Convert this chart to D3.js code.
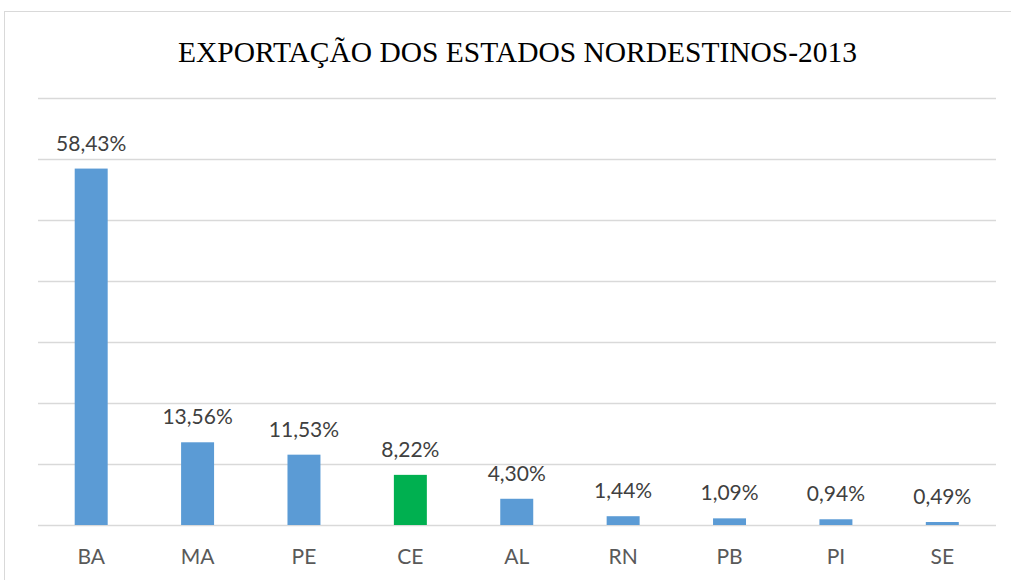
<!DOCTYPE html>
<html>
<head>
<meta charset="utf-8">
<script src="https://cdn.jsdelivr.net/npm/d3@7/dist/d3.min.js"></script>
<style>
  body { margin: 0; background: #fff; }
  svg { display: block; }
</style>
</head>
<body>
<svg id="chart"></svg>
<script>
var width = 1011,
    height = 580;

var states = ["BA", "MA", "PE", "CE", "AL", "RN", "PB", "PI", "SE"];
var shares = [58.43, 13.56, 11.53, 8.22, 4.30, 1.44, 1.09, 0.94, 0.49];
var shareLabels = ["58,43%", "13,56%", "11,53%", "8,22%", "4,30%", "1,44%", "1,09%", "0,94%", "0,49%"];
var gridTicks = [0, 10, 20, 30, 40, 50, 60, 70];
var highlight = "CE";

var margin = {top: 98, right: 15, bottom: 55, left: 38};

var svg = d3.select("#chart").attr("width", width).attr("height", height);

// outer chart frame
svg.append("rect")
  .attr("x", 4.5).attr("y", 11.5)
  .attr("width", width + 10).attr("height", height + 10)
  .attr("fill", "none")
  .attr("stroke", "#d9d9d9")
  .attr("stroke-width", 1);

svg.append("text")
  .attr("x", 517.5)
  .attr("y", 62)
  .attr("text-anchor", "middle")
  .attr("font-family", "'Liberation Serif', 'Times New Roman', serif")
  .attr("font-size", "29px")
  .attr("textLength", 679)
  .attr("lengthAdjust", "spacingAndGlyphs")
  .attr("fill", "#000")
  .text("EXPORTAÇÃO DOS ESTADOS NORDESTINOS-2013");

var x = d3.scaleBand()
  .domain(states)
  .range([margin.left, width - margin.right - 0.5])
  .paddingInner(0.69)
  .paddingOuter(0.345);

var y = d3.scaleLinear()
  .domain([0, 70])
  .range([height - margin.bottom, margin.top]);

var g = svg.append("g");

g.selectAll("line.grid")
  .data(gridTicks)
  .enter().append("line")
  .attr("class", "grid")
  .attr("x1", margin.left)
  .attr("x2", width - margin.right)
  .attr("y1", function(d) { return Math.round(y(d)) + 0.5; })
  .attr("y2", function(d) { return Math.round(y(d)) + 0.5; })
  .attr("stroke", "#d9d9d9")
  .attr("stroke-width", 1.5);

g.selectAll("rect.bar")
  .data(states)
  .enter().append("rect")
  .attr("class", "bar")
  .attr("x", function(d) { return x(d); })
  .attr("width", x.bandwidth())
  .attr("y", function(d, i) { return y(shares[i]); })
  .attr("height", function(d, i) { return y(0) - y(shares[i]); })
  .attr("fill", function(d) { return d === highlight ? "#00b050" : "#5b9bd5"; });

g.selectAll("text.val")
  .data(states)
  .enter().append("text")
  .attr("class", "val")
  .attr("x", function(d) { return x(d) + x.bandwidth() / 2; })
  .attr("y", function(d, i) { return y(shares[i]) - 18; })
  .attr("text-anchor", "middle")
  .attr("font-family", "Lato, 'Open Sans', sans-serif")
  .attr("font-size", "21px")
  .attr("fill", "#404040")
  .text(function(d, i) { return shareLabels[i]; });

var xAxis = g.append("g")
  .attr("transform", "translate(0," + (height - margin.bottom) + ")")
  .call(d3.axisBottom(x).tickSize(0).tickPadding(24));
xAxis.select(".domain").remove();
xAxis.selectAll("text")
  .attr("font-family", "Lato, 'Open Sans', sans-serif")
  .attr("font-size", "21px")
  .attr("fill", "#595959");
</script>
</body>
</html>
